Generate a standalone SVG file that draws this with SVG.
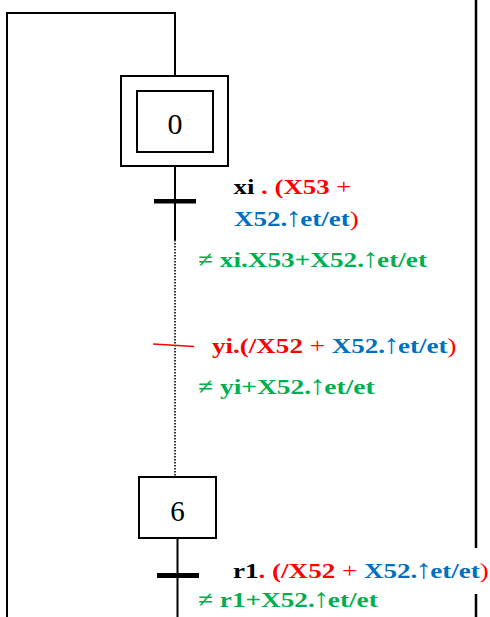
<svg xmlns="http://www.w3.org/2000/svg" width="490" height="617" viewBox="0 0 490 617">
<style>
.ln{stroke:#000;stroke-width:2;fill:none}
.box{stroke:#000;stroke-width:2;fill:#fff}
.dot{stroke:#000;stroke-width:1.6;stroke-dasharray:1.6 1.4;fill:none}
.bar{fill:#000}
.num{font-family:"Liberation Serif","Times New Roman",serif;font-size:30px;fill:#000}
.t{font-family:"Liberation Serif","Times New Roman",serif;font-size:22px;font-weight:bold}
.k{fill:#000}.r{fill:#FF0000}.b{fill:#0070C0}.g{fill:#00B050}
.n{font-weight:normal}
.a{font-size:27px;font-weight:normal}
</style>
<rect width="490" height="617" fill="#fff"/>
<g id="connectors">
<polyline class="ln" points="7,617 7,13 175,13 175,76"/>
<line class="ln" x1="175" y1="166" x2="175" y2="240"/>
<line class="dot" x1="175" y1="240" x2="175" y2="477"/>
<line class="ln" x1="177.5" y1="538" x2="177.5" y2="617"/>
<line x1="476" y1="0" x2="476" y2="548" stroke="#000" stroke-width="2.5"/>
<line x1="476" y1="594" x2="476" y2="617" stroke="#000" stroke-width="2.5"/>
</g>
<g id="step0">
<rect class="box" x="121" y="76" width="107" height="90"/>
<rect class="box" x="137" y="91" width="76" height="61"/>
<text class="num" x="175" y="134" text-anchor="middle">0</text>
</g>
<g id="step6">
<rect class="box" x="139" y="477" width="77" height="61"/>
<text class="num" x="177.5" y="521" text-anchor="middle" style="font-size:29px">6</text>
</g>
<g id="transition1">
<rect class="bar" x="154" y="199" width="42" height="4.5"/>
<text class="t" transform="translate(233.5,194) scale(1.22,1)"><tspan class="k">xi</tspan><tspan class="r"> . (X53 </tspan><tspan class="r n">+</tspan></text>
<text class="t" transform="translate(234,226) scale(1.23,1)"><tspan class="b">X52.<tspan class="a" dx="-1.5">↑</tspan><tspan dx="-1.5">et/et</tspan></tspan><tspan class="r n">)</tspan></text>
<text class="t g" transform="translate(198,267) scale(1.24,1)">≠ xi.X53+X52.<tspan class="a" dx="-1.5">↑</tspan><tspan dx="-1.5">et/et</tspan></text>
</g>
<g id="transition2">
<line x1="153" y1="344" x2="194" y2="346.5" stroke="#FF0000" stroke-width="1.6"/>
<text class="t" transform="translate(212,353) scale(1.23,1)"><tspan class="r">yi.(/X52 </tspan><tspan class="r n">+</tspan><tspan class="b"> X52.<tspan class="a" dx="-1.5">↑</tspan><tspan dx="-1.5">et/et</tspan></tspan><tspan class="r n">)</tspan></text>
<text class="t g" transform="translate(198,394) scale(1.25,1)">≠ yi+X52.<tspan class="a" dx="-1.5">↑</tspan><tspan dx="-1.5">et/et</tspan></text>
</g>
<g id="transition3">
<rect class="bar" x="157" y="573" width="42" height="5"/>
<text class="t" transform="translate(233,578) scale(1.23,1)"><tspan class="k">r1</tspan><tspan class="r">. (/X52 </tspan><tspan class="r n">+</tspan><tspan class="b"> X52.<tspan class="a" dx="-1.5">↑</tspan><tspan dx="-1.5">et/et</tspan></tspan><tspan class="r n">)</tspan></text>
<text class="t g" transform="translate(198,607) scale(1.24,1)">≠ r1+X52.<tspan class="a" dx="-1.5">↑</tspan><tspan dx="-1.5">et/et</tspan></text>
</g>
</svg>
